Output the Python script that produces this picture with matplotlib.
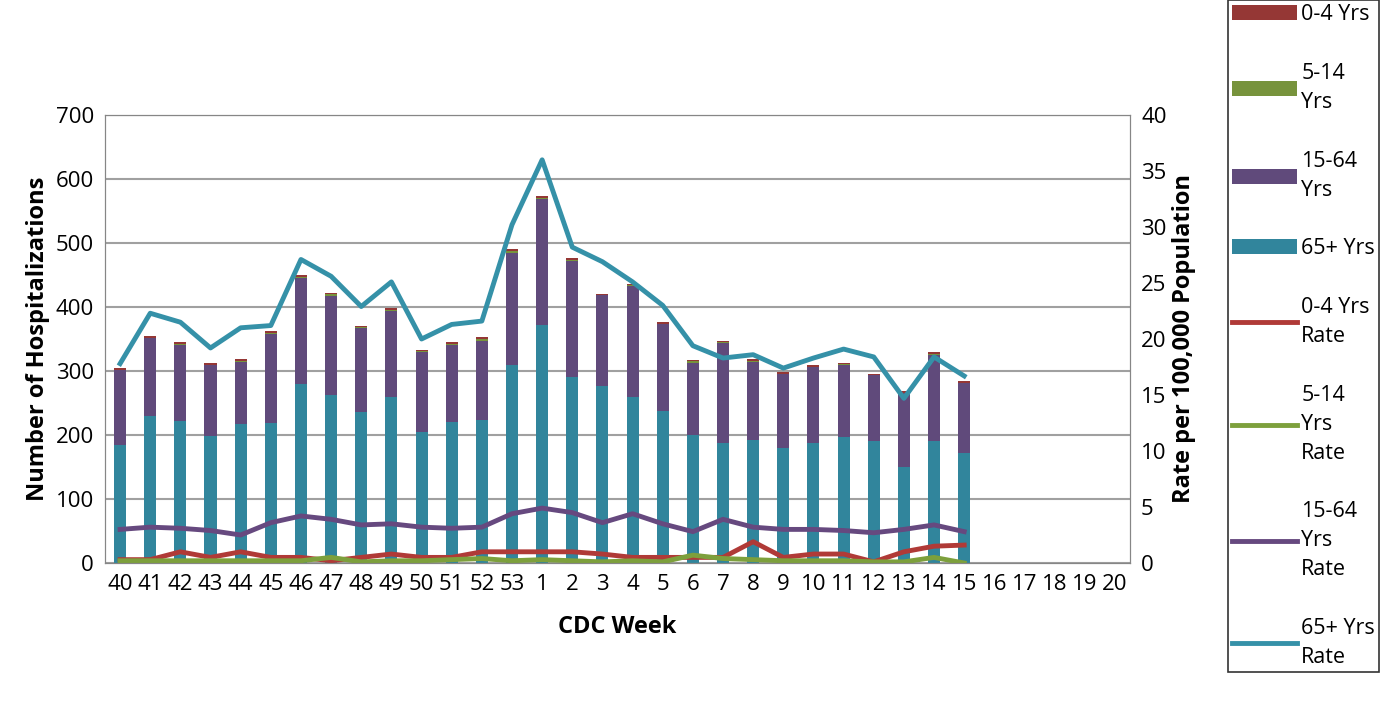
import numpy as np
import matplotlib
matplotlib.use("Agg")
import matplotlib.pyplot as plt

plt.rcParams["font.family"] = ["Open Sans", "DejaVu Sans"]

weeks = [str(w) for w in list(range(40, 54)) + list(range(1, 21))]
n_data = 29

total = [305, 355, 345, 312, 318, 362, 450, 422, 370, 398, 333, 345, 353, 490,
         573, 476, 421, 436, 376, 317, 347, 318, 298, 309, 313, 296, 268, 330, 285]
h65 = [184, 230, 222, 198, 217, 219, 279, 263, 236, 259, 205, 220, 223, 310,
       372, 291, 277, 259, 238, 200, 188, 192, 179, 188, 197, 190, 150, 190, 172]
h0_4 = [3, 3, 3, 2, 3, 3, 3, 2, 2, 3, 2, 3, 3, 3, 3, 3, 2, 2, 2, 2, 2, 3, 2, 2, 2, 2, 2, 3, 3]
h5_14 = [1, 1, 2, 1, 1, 1, 2, 3, 1, 2, 1, 2, 3, 2, 2, 1, 1, 1, 1, 3, 2, 1, 1, 1, 1, 1, 1, 2, 1]
h15_64 = [t - a - b - c for t, a, b, c in zip(total, h65, h0_4, h5_14)]

r65 = [17.8, 22.3, 21.5, 19.2, 21.0, 21.2, 27.1, 25.6, 22.9, 25.1, 20.0, 21.3, 21.6, 30.2,
       36.0, 28.2, 26.9, 25.1, 23.0, 19.4, 18.3, 18.6, 17.4, 18.3, 19.1, 18.4, 14.7, 18.4, 16.7]
r15_64 = [3.0, 3.2, 3.1, 2.9, 2.5, 3.6, 4.2, 3.9, 3.4, 3.5, 3.2, 3.1, 3.2, 4.4,
          4.9, 4.5, 3.6, 4.4, 3.5, 2.8, 3.9, 3.2, 3.0, 3.0, 2.9, 2.7, 3.0, 3.4, 2.8]
r0_4 = [0.3, 0.3, 1.0, 0.5, 1.0, 0.5, 0.5, 0.2, 0.5, 0.8, 0.5, 0.5, 1.0, 1.0,
        1.0, 1.0, 0.8, 0.5, 0.5, 0.5, 0.5, 1.9, 0.5, 0.8, 0.8, 0.1, 1.0, 1.5, 1.6]
r5_14 = [0.2, 0.2, 0.2, 0.2, 0.2, 0.2, 0.2, 0.5, 0.1, 0.2, 0.2, 0.3, 0.4, 0.2,
         0.3, 0.2, 0.1, 0.2, 0.1, 0.7, 0.4, 0.3, 0.2, 0.2, 0.2, 0.1, 0.1, 0.5, 0.0]

c04, c514, c1564, c65 = "#953735", "#77933C", "#604A7B", "#31859C"

fig = plt.figure(figsize=(13.92, 7.05), dpi=100)
ax = fig.add_axes([105 / 1392, 1 - 563 / 705, 1025 / 1392, 448 / 705])
x = np.arange(len(weeks))
xd = x[:n_data]
w = 0.4
ax.bar(xd, h65, w, color=c65, label="65+ Yrs", zorder=2)
ax.bar(xd, h15_64, w, bottom=h65, color=c1564, label="15-64\nYrs", zorder=2)
b2 = np.array(h65) + np.array(h15_64)
ax.bar(xd, h5_14, w, bottom=b2, color=c514, label="5-14\nYrs", zorder=2)
ax.bar(xd, h0_4, w, bottom=b2 + np.array(h5_14), color=c04, label="0-4 Yrs", zorder=2)
ax.set_ylim(0, 700)
ax.set_yticks(range(0, 701, 100))
ax.set_xlim(-0.5, len(weeks) - 0.5)
ax.set_xticks(x)
ax.set_xticklabels(weeks)
ax.grid(axis="y", color="#A0A0A0", linewidth=1.5, zorder=0)
ax.set_axisbelow(True)
ax.tick_params(labelsize=16, length=0, pad=8)
ax.set_ylabel("Number of Hospitalizations", fontsize=17, fontweight="bold")
ax.set_xlabel("CDC Week", fontsize=17, fontweight="bold", labelpad=14)
for s in ax.spines.values():
    s.set_color("#868686")

ax2 = ax.twinx()
ax2.plot(xd, r0_4, color="#B03A37", lw=3.5, label="0-4 Yrs\nRate")
ax2.plot(xd, r5_14, color="#7DA03C", lw=3.5, label="5-14\nYrs\nRate")
ax2.plot(xd, r15_64, color="#66497F", lw=3.5, label="15-64\nYrs\nRate")
ax2.plot(xd, r65, color="#3591A8", lw=3.5, label="65+ Yrs\nRate")
ax2.set_ylim(0, 40)
ax2.set_yticks(range(0, 41, 5))
ax2.tick_params(labelsize=16, length=0, pad=8)
ax2.set_ylabel("Rate per 100,000 Population", fontsize=17, fontweight="bold")
for s in ax2.spines.values():
    s.set_color("#868686")

h1, l1 = ax.get_legend_handles_labels()
h2, l2 = ax2.get_legend_handles_labels()
handles = h1[::-1] + h2
labels = l1[::-1] + l2
leg = fig.legend(handles, labels, loc="upper left", bbox_to_anchor=(1228 / 1392, 1.0),
                 fontsize=15.5, frameon=True, fancybox=False, edgecolor="black",
                 labelspacing=1.75, handlelength=3.0, handletextpad=0.2,
                 borderaxespad=0, borderpad=0.2)
for t in leg.get_texts():
    t.set_linespacing(1.5)
leg.get_frame().set_linewidth(1.2)

fig.savefig("out.png", dpi=100)
